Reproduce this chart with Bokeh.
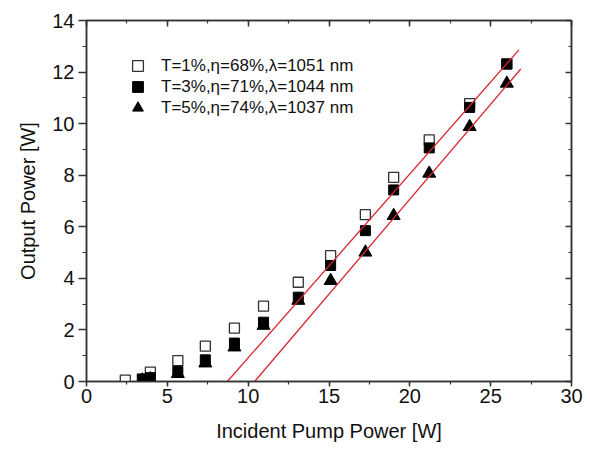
from bokeh.plotting import figure
from bokeh.models import (LinearAxis, SingleIntervalTicker, Range1d, Legend, LegendItem)
from bokeh.embed import file_html
from bokeh.resources import INLINE

# ---- data ----
x_t1 = [2.4, 3.95, 5.65, 7.35, 9.15, 10.95, 13.1, 15.1, 17.25, 19.0, 21.2, 23.7, 26.0]
y_t1 = [0.05, 0.36, 0.81, 1.37, 2.07, 2.92, 3.85, 4.88, 6.47, 7.92, 9.37, 10.78, 12.32]

x_t3 = [3.45, 3.95, 5.65, 7.35, 9.15, 10.95, 13.1, 15.1, 17.25, 19.0, 21.2, 23.7, 26.0]
y_t3 = [0.10, 0.15, 0.40, 0.84, 1.49, 2.30, 3.27, 4.50, 5.85, 7.43, 9.06, 10.63, 12.31]

x_t5 = [3.45, 3.95, 5.65, 7.35, 9.15, 10.95, 13.1, 15.1, 17.25, 19.0, 21.2, 23.7, 26.0]
y_t5 = [0.05, 0.10, 0.30, 0.71, 1.33, 2.17, 3.14, 3.91, 5.01, 6.43, 8.07, 9.88, 11.56]

fit_a_x = [8.71, 26.75]
fit_a_y = [0.0, 12.86]
fit_b_x = [10.40, 26.86]
fit_b_y = [0.0, 12.12]

labels = ["T=1%,\u03b7=68%,\u03bb=1051 nm",
          "T=3%,\u03b7=71%,\u03bb=1044 nm",
          "T=5%,\u03b7=74%,\u03bb=1037 nm"]

x_ticks = [0, 5, 10, 15, 20, 25, 30]
y_ticks = [0, 2, 4, 6, 8, 10, 12, 14]

FONT = "Liberation Sans"
DARK = "#333333"

p = figure(width=585, height=446, output_backend="svg", toolbar_location=None,
           x_range=Range1d(0, 30), y_range=Range1d(0, 14),
           min_border_left=86, min_border_right=14, min_border_top=20, min_border_bottom=65)
p.grid.visible = False
p.outline_line_color = DARK
p.outline_line_width = 1.5
p.background_fill_color = "white"
p.border_fill_color = "white"

xt = SingleIntervalTicker(interval=5, num_minor_ticks=2)
yt = SingleIntervalTicker(interval=2, num_minor_ticks=2)

xa = p.xaxis[0]
xa.ticker = xt
xa.axis_label = "Incident Pump Power [W]"
ya = p.yaxis[0]
ya.ticker = yt
ya.axis_label = "Output Power [W]"

for ax, tout, mout in ((xa, 5, 3), (ya, 8, 4)):
    ax.axis_line_color = DARK
    ax.axis_line_width = 1.5
    ax.major_tick_line_color = DARK
    ax.minor_tick_line_color = DARK
    ax.major_tick_line_width = 1.5
    ax.minor_tick_line_width = 1.2
    ax.major_tick_in = 0
    ax.major_tick_out = tout
    ax.minor_tick_in = 0
    ax.minor_tick_out = mout
    ax.major_label_text_font = FONT
    ax.major_label_text_font_size = "20px"
    ax.major_label_text_color = "#111111"
    ax.axis_label_text_font = FONT
    ax.axis_label_text_font_size = "20px"
    ax.axis_label_text_font_style = "normal"
    ax.axis_label_text_color = "#111111"
xa.major_label_standoff = 2
xa.axis_label_standoff = 14
ya.major_label_standoff = 4
ya.axis_label_standoff = 10

for loc, tk, vals in (("above", xt, x_ticks), ("right", yt, y_ticks)):
    ax = LinearAxis(ticker=tk)
    ax.axis_line_color = DARK
    ax.axis_line_width = 1.5
    ax.major_tick_line_color = DARK
    ax.minor_tick_line_color = DARK
    ax.major_tick_line_width = 1.5
    ax.minor_tick_line_width = 1.2
    ax.major_tick_in = 6
    ax.major_tick_out = 0
    ax.minor_tick_in = 3
    ax.minor_tick_out = 0
    ax.major_label_overrides = {v: "" for v in vals}
    ax.major_label_text_font_size = "1px"
    ax.major_label_standoff = 0
    p.add_layout(ax, loc)

r1 = p.scatter(x_t1, y_t1, marker="square", size=10, fill_color="white",
               line_color=DARK, line_width=1.3)
r3 = p.scatter(x_t5, y_t5, marker="triangle", size=13, fill_color="black",
               line_color="black", line_width=1)
r2 = p.scatter(x_t3, y_t3, marker="square", size=10, fill_color="black",
               line_color="black", line_width=1)

p.line(fit_a_x, fit_a_y, line_color="#d9262e", line_width=1.3)
p.line(fit_b_x, fit_b_y, line_color="#d9262e", line_width=1.3)

for i, (lab, r) in enumerate(zip(labels, [r1, r2, r3])):
    lg = Legend(items=[LegendItem(label=lab, renderers=[r])],
                location=(38, 302 - 21 * i))
    lg.border_line_color = None
    lg.background_fill_alpha = 0
    lg.padding = 0
    lg.margin = 0
    lg.glyph_width = 27
    lg.glyph_height = 27
    lg.label_height = 27
    lg.label_standoff = 10
    lg.label_text_font = FONT
    lg.label_text_font_size = "17px"
    lg.label_text_color = "#111111"
    p.add_layout(lg, "center")

open("out.html", "w").write(file_html(p, INLINE))
